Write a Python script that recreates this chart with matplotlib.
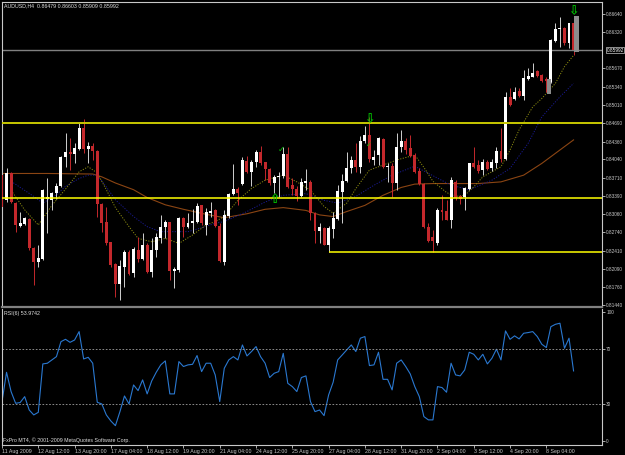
import matplotlib
matplotlib.use("Agg")
import matplotlib.pyplot as plt
from matplotlib.transforms import blended_transform_factory
import numpy as np

# AUDUSD H4 candles
opens = [0.83763, 0.83316, 0.83793, 0.83268, 0.82851, 0.82887, 0.82970, 0.82452, 0.82213, 0.82255,
         0.83328, 0.83316, 0.83447, 0.83566, 0.84091, 0.84168, 0.84138, 0.84228, 0.84597, 0.84228,
         0.84281, 0.84198, 0.83239, 0.82929, 0.82559, 0.82172, 0.81814, 0.82112, 0.82380, 0.82005,
         0.82422, 0.82255, 0.82511, 0.82034, 0.82422, 0.82631, 0.82827, 0.82929, 0.82052, 0.82064,
         0.82988, 0.82827, 0.82899, 0.82929, 0.83227, 0.82869, 0.83077, 0.83137, 0.82851, 0.82213,
         0.83030, 0.83423, 0.83507, 0.83602, 0.84019, 0.83822, 0.83989, 0.84168, 0.83989, 0.83870,
         0.83626, 0.83721, 0.83745, 0.84132, 0.83584, 0.83513, 0.83387, 0.83614, 0.83643, 0.83089,
         0.82767, 0.82809, 0.82511, 0.82797, 0.82970, 0.83465, 0.83661, 0.83882, 0.84031, 0.83912,
         0.84377, 0.84478, 0.84031, 0.84120, 0.84406, 0.83900, 0.83924, 0.83626, 0.84258, 0.84377,
         0.84240, 0.84120, 0.83840, 0.83602, 0.82827, 0.82660, 0.82553, 0.83137, 0.83125, 0.82958,
         0.83643, 0.83387, 0.83363, 0.83507, 0.83983, 0.83942, 0.83852, 0.84001, 0.83882, 0.83971,
         0.84198, 0.84043, 0.85162, 0.85114, 0.85263, 0.85174, 0.85477, 0.85519, 0.85626, 0.85549,
         0.85483, 0.85430, 0.86163, 0.86366, 0.86383, 0.86115, 0.86479]
highs = [0.83822, 0.83882, 0.83822, 0.83286, 0.83107, 0.83018, 0.82988, 0.82481, 0.82511, 0.83507,
         0.83703, 0.83465, 0.83626, 0.84103, 0.84520, 0.84418, 0.84329, 0.84687, 0.84758, 0.84359,
         0.84329, 0.84210, 0.83257, 0.83197, 0.82571, 0.82184, 0.82243, 0.82422, 0.82422, 0.82481,
         0.82660, 0.82732, 0.82541, 0.82631, 0.82720, 0.83048, 0.82958, 0.82929, 0.82124, 0.83018,
         0.83006, 0.83077, 0.83149, 0.83257, 0.83227, 0.83167, 0.83286, 0.83149, 0.82899, 0.83137,
         0.83447, 0.83954, 0.83542, 0.84091, 0.84103, 0.84031, 0.84210, 0.84287, 0.84001, 0.83882,
         0.83763, 0.83822, 0.84269, 0.84269, 0.83703, 0.83566, 0.83703, 0.83864, 0.83673, 0.83107,
         0.82911, 0.82839, 0.82851, 0.83107, 0.83584, 0.83781, 0.84180, 0.84103, 0.84329, 0.84460,
         0.84639, 0.84806, 0.84210, 0.84436, 0.84418, 0.83983, 0.83983, 0.84520, 0.84567, 0.84418,
         0.84478, 0.84150, 0.83882, 0.83626, 0.82899, 0.82779, 0.83167, 0.83405, 0.83316, 0.83733,
         0.83673, 0.83405, 0.83554, 0.83983, 0.84269, 0.84031, 0.84043, 0.84031, 0.84043, 0.84269,
         0.84597, 0.85252, 0.85311, 0.85340, 0.85311, 0.85638, 0.85668, 0.85769, 0.85638, 0.85567,
         0.85507, 0.86187, 0.86473, 0.86580, 0.86401, 0.86485, 0.86603]
lows = [0.83167, 0.83286, 0.83257, 0.82749, 0.82839, 0.82869, 0.82422, 0.81796, 0.82124, 0.82243,
        0.82720, 0.83137, 0.83328, 0.83554, 0.83912, 0.83852, 0.83971, 0.84210, 0.84150, 0.83971,
        0.84031, 0.83018, 0.82749, 0.82511, 0.82124, 0.81587, 0.81528, 0.81766, 0.81975, 0.81945,
        0.82213, 0.82243, 0.82005, 0.81945, 0.82303, 0.82541, 0.82631, 0.81885, 0.81736, 0.82034,
        0.82660, 0.82809, 0.82720, 0.82899, 0.82869, 0.82690, 0.83018, 0.82839, 0.82213, 0.82154,
        0.82988, 0.83405, 0.83227, 0.83584, 0.83793, 0.83566, 0.83912, 0.83942, 0.83673, 0.83584,
        0.83435, 0.83363, 0.83703, 0.83524, 0.83405, 0.83304, 0.83363, 0.83495, 0.82958, 0.82541,
        0.82541, 0.82511, 0.82380, 0.82631, 0.82958, 0.82899, 0.83643, 0.83793, 0.83822, 0.83793,
        0.84341, 0.84001, 0.83942, 0.83942, 0.83882, 0.83643, 0.83363, 0.83495, 0.84180, 0.84138,
        0.84091, 0.83793, 0.83584, 0.82809, 0.82571, 0.82392, 0.82511, 0.82958, 0.82958, 0.82809,
        0.83316, 0.83245, 0.83137, 0.83495, 0.83882, 0.83793, 0.83763, 0.83852, 0.83840, 0.83882,
        0.84001, 0.84031, 0.84995, 0.85102, 0.85162, 0.85102, 0.85460, 0.85507, 0.85519, 0.85430,
        0.85251, 0.85412, 0.86145, 0.86056, 0.86085, 0.86026, 0.85909]
closes = [0.83197, 0.83793, 0.83286, 0.82869, 0.82899, 0.82988, 0.82452, 0.82213, 0.82273, 0.83495,
          0.83363, 0.83447, 0.83566, 0.84091, 0.84168, 0.84138, 0.84240, 0.84597, 0.84222, 0.84281,
          0.84198, 0.83239, 0.82899, 0.82541, 0.82154, 0.81814, 0.82136, 0.82380, 0.81993, 0.82434,
          0.82255, 0.82511, 0.82034, 0.82422, 0.82648, 0.82827, 0.82929, 0.82052, 0.82082, 0.83000,
          0.82839, 0.82911, 0.82946, 0.83209, 0.82899, 0.83107, 0.83125, 0.82851, 0.82231, 0.83048,
          0.83423, 0.83507, 0.83435, 0.84031, 0.83822, 0.84001, 0.84168, 0.83971, 0.83864, 0.83626,
          0.83733, 0.83745, 0.84132, 0.83554, 0.83513, 0.83387, 0.83643, 0.83661, 0.83089, 0.82767,
          0.82827, 0.82511, 0.82809, 0.82988, 0.83477, 0.83661, 0.83894, 0.84031, 0.83900, 0.84377,
          0.84478, 0.84043, 0.84079, 0.84418, 0.83900, 0.83924, 0.83626, 0.84269, 0.84377, 0.84210,
          0.84103, 0.83822, 0.83602, 0.82827, 0.82589, 0.82589, 0.83137, 0.83101, 0.82958, 0.83673,
          0.83346, 0.83340, 0.83524, 0.83971, 0.83912, 0.83840, 0.84001, 0.83864, 0.84001, 0.84198,
          0.84043, 0.85151, 0.85013, 0.85251, 0.85174, 0.85489, 0.85531, 0.85591, 0.85531, 0.85448,
          0.85448, 0.86175, 0.86366, 0.86383, 0.86115, 0.86473, 0.85992]

rsi = [31.7, 53.0, 39.0, 30.5, 31.0, 35.3, 25.6, 22.0, 23.9, 59.1,
       59.6, 62.0, 64.4, 75.3, 77.0, 74.8, 76.5, 82.6, 62.7, 63.9,
       59.6, 31.2, 30.0, 22.0, 17.6, 14.2, 24.4, 35.8, 30.0, 43.8,
       39.7, 47.5, 37.3, 46.7, 53.0, 58.4, 61.3, 37.3, 37.3, 60.8,
       57.2, 58.4, 58.8, 65.2, 53.5, 59.6, 59.6, 51.1, 31.7, 55.9,
       62.0, 64.4, 62.0, 72.9, 64.9, 68.1, 71.7, 64.4, 59.6, 49.2,
       52.3, 53.5, 66.8, 45.0, 42.6, 39.0, 49.2, 50.4, 31.7, 24.4,
       25.6, 21.5, 36.5, 45.8, 62.0, 65.6, 69.3, 72.9, 68.1, 77.8,
       79.0, 57.9, 58.4, 67.6, 47.9, 47.9, 40.2, 59.6, 62.0, 57.2,
       51.8, 42.6, 35.3, 20.8, 18.4, 18.4, 42.6, 41.9, 38.5, 59.6,
       51.1, 50.4, 54.7, 67.6, 66.1, 62.0, 66.1, 59.1, 63.2, 69.8,
       62.0, 83.1, 77.0, 79.5, 77.3, 81.4, 81.9, 82.6, 79.0, 73.4,
       71.0, 86.2, 87.9, 88.7, 70.5, 77.8, 54.0]

# moving averages
fast_bars = [2, 5, 8, 11, 14, 17, 19, 21, 23, 25, 28, 30, 33, 36, 39, 42, 45, 47, 49, 52, 55, 58,
             62, 65, 68, 71, 73, 76, 78, 81, 84, 87, 91, 93, 95, 98, 100, 102, 104, 106, 110, 112,
             114, 117, 119, 122, 124, 126]
fast_ma = [0.8349, 0.8314, 0.8287, 0.8322, 0.8351, 0.8382, 0.8391, 0.8380, 0.8350, 0.8318, 0.8284,
           0.8263, 0.8257, 0.8263, 0.8254, 0.8269, 0.8287, 0.8293, 0.8302, 0.8331, 0.8352, 0.8367,
           0.8376, 0.8364, 0.8349, 0.8320, 0.8308, 0.8326, 0.8352, 0.8385, 0.8394, 0.8403, 0.8412,
           0.8390, 0.8365, 0.8345, 0.8338, 0.8340, 0.8355, 0.8373, 0.8391, 0.8421, 0.8457, 0.8498,
           0.8513, 0.8540, 0.8570, 0.8590]
mid_bars = [2, 7, 9, 12, 14, 17, 19, 21, 23, 25, 29, 32, 35, 38, 41, 44, 47, 49, 54, 58, 62, 67,
            71, 74, 78, 82, 86, 91, 95, 99, 103, 108, 112, 116, 119, 123, 126]
mid_ma = [0.8365, 0.8338, 0.8326, 0.8341, 0.8356, 0.8370, 0.8376, 0.8376, 0.8355, 0.8332, 0.8302,
          0.8284, 0.8275, 0.8275, 0.8275, 0.8282, 0.8290, 0.8293, 0.8311, 0.8328, 0.8340, 0.8343,
          0.8331, 0.8326, 0.8338, 0.8358, 0.8376, 0.8392, 0.8375, 0.8358, 0.8350, 0.8367, 0.8388,
          0.8433, 0.8480, 0.8516, 0.8540]
slow_bars = [0, 10, 20, 22, 25, 29, 32, 36, 40, 45, 49, 54, 58, 62, 67, 70, 73, 76, 80, 84, 88,
             91, 95, 100, 105, 110, 115, 119, 123, 126]
slow_ma = [0.8379, 0.8379, 0.8378, 0.8373, 0.8362, 0.8350, 0.8336, 0.8323, 0.8315, 0.8306, 0.8300,
           0.8307, 0.8315, 0.8318, 0.8313, 0.8305, 0.8302, 0.8311, 0.8322, 0.8340, 0.8354, 0.8360,
           0.8361, 0.8361, 0.8361, 0.8364, 0.8376, 0.8397, 0.8421, 0.8439]

price_ticks = [0.86640, 0.86320, 0.85670, 0.85340, 0.85010, 0.84690, 0.84360, 0.84040, 0.83710,
               0.83390, 0.83060, 0.82740, 0.82410, 0.82090, 0.81760, 0.81440]
time_labels = ["11 Aug 2009", "12 Aug 12:00", "13 Aug 20:00", "17 Aug 04:00", "18 Aug 12:00",
               "19 Aug 20:00", "21 Aug 04:00", "24 Aug 12:00", "25 Aug 20:00", "27 Aug 04:00",
               "28 Aug 12:00", "31 Aug 20:00", "2 Sep 04:00", "3 Sep 12:00", "4 Sep 20:00",
               "8 Sep 04:00"]
hlines_full = [0.84698, 0.83352]
support_line = 0.82387
support_from = 72
bid = 0.85992

plt.rcParams["font.family"] = "Liberation Sans"
W, H = 625, 455
fig = plt.figure(figsize=(6.25, 4.55), dpi=100, facecolor="black")


def box(x0, y0, x1, y1):
    return [x0 / W, 1 - y1 / H, (x1 - x0) / W, (y1 - y0) / H]


ax = fig.add_axes(box(2, 1.5, 602, 307))
ax2 = fig.add_axes(box(2, 308.5, 602, 444.5), sharex=ax)
fg = "#c8c8c8"
for a in (ax, ax2):
    a.set_facecolor("black")
    for s in a.spines.values():
        s.set_color(fg)
        s.set_linewidth(0.8)
ax.spines["bottom"].set_color("#808080")
ax.spines["bottom"].set_linewidth(1.6)
ax2.spines["top"].set_visible(False)

o, h, l, c = (np.array(v) for v in (opens, highs, lows, closes))
bars = np.arange(len(o))
up = c >= o
red = "#c4282c"
lo = np.minimum(o, c)
bh = np.maximum(np.abs(c - o), 0.00015)

ax.plot(slow_bars, slow_ma, color="#8b4513", lw=0.8, zorder=1)
ax.plot(mid_bars, mid_ma, color="#1a1a90", lw=0.7, ls=(0, (1.2, 1.5)), zorder=1)
ax.plot(fast_bars, fast_ma, color="#8a8a10", lw=0.7, ls=(0, (1.2, 1.5)), zorder=1)
ax.axhline(bid, color="#808080", lw=1.0, zorder=1)

ax.vlines(bars[up], l[up], h[up], color="#d0d0d0", lw=0.7, zorder=2)
ax.vlines(bars[~up], l[~up], h[~up], color=red, lw=0.7, zorder=2)
ax.bar(bars[up], bh[up], 0.65, bottom=lo[up], color="white", lw=0, zorder=3)
ax.bar(bars[~up], bh[~up], 0.65, bottom=lo[~up], color=red, lw=0, zorder=3)

# grey boxes next to two candles
for i, top, bot in [(120, 0.85480, 0.85210), (126, 0.86604, 0.85956)]:
    ax.bar(i + 0.65, top - bot, 0.9, bottom=bot, color="#8c8c8c", lw=0, zorder=3)

ax.axhline(hlines_full[0], color="#c8c800", lw=1.4, zorder=4)
ax.axhline(hlines_full[1], color="#ffff00", lw=1.1, zorder=4)
ax.hlines(support_line, support_from, 140, color="#ffff00", lw=1.1, zorder=4)

green = "#00c000"
arrow_kw = dict(color=green, ha="center", va="center", family="DejaVu Sans", zorder=5,
                fontweight="bold")
ax.text(81, 0.84745, "\u21e9", fontsize=9, **arrow_kw)
ax.text(126, 0.86690, "\u21e9", fontsize=9, **arrow_kw)
ax.text(60, 0.83316, "\u21e7", fontsize=9, **arrow_kw)
ax.text(61.6, 0.84228, "\u2713", fontsize=6, **arrow_kw)
ax.text(80.9, 0.84299, "\u2713", fontsize=5, **arrow_kw)

ax.set_xlim(0.11, 132.27)
ax.set_ylim(0.81404, 0.86863)
ax.yaxis.tick_right()
ax.set_yticks(price_ticks)
ax.set_yticklabels([f"{v:.5f}" for v in price_ticks])
ax.tick_params(axis="y", colors=fg, labelsize=3.4, length=2, width=0.6, pad=1)
ax.tick_params(axis="x", bottom=False, labelbottom=False)
tr = blended_transform_factory(ax.transAxes, ax.transData)
ax.text(1.0075, bid, f"{bid:.5f}", transform=tr, color="white", fontsize=3.4, ha="left", va="center",
        bbox=dict(boxstyle="square,pad=0.15", fc="black", ec=fg, lw=0.5), clip_on=False, zorder=6)

# RSI panel
ax2.plot(bars, rsi, color="#2a78d0", lw=0.8)
for lvl in (70, 30):
    ax2.axhline(lvl, color="#a0a0a0", lw=0.6, ls=(0, (2, 2)))
ax2.set_ylim(0.5, 99.4)
ax2.yaxis.tick_right()
ax2.set_yticks([3, 30, 70, 97])
ax2.set_yticklabels(["0", "30", "70", "100"])
ax2.tick_params(axis="y", colors=fg, labelsize=3.4, length=2, width=0.6, pad=1)
ax2.set_xticks(np.arange(len(time_labels)) * 8)
ax2.set_xticklabels(time_labels, ha="left")
ax2.tick_params(axis="x", colors=fg, labelsize=3.8, length=2.5, width=0.6, pad=1)

fig.text(4 / W, 1 - 6 / H, "AUDUSD,H4  0.86479 0.86603 0.85909 0.85992", color="#e0e0e0",
         fontsize=3.8, ha="left", va="center")
fig.text(4 / W, 1 - 314 / H, "RSI(6) 53.9742", color="#e0e0e0", fontsize=3.8, ha="left", va="center")
fig.text(3 / W, 1 - 440.5 / H, "FxPro MT4, \u00a9 2001-2009 MetaQuotes Software Corp.", color="#e0e0e0",
         fontsize=3.8, ha="left", va="center")

fig.savefig("out.png", dpi=100, facecolor="black")
